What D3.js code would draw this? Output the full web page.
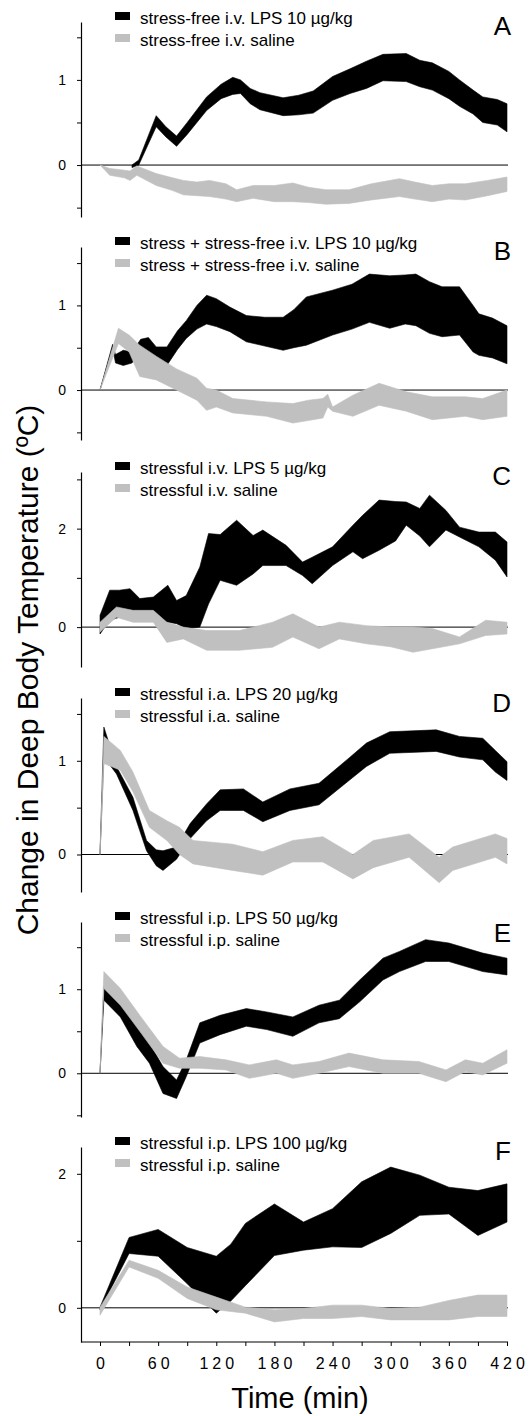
<!DOCTYPE html>
<html>
<head>
<meta charset="utf-8">
<script src="https://cdn.jsdelivr.net/npm/d3@7"></script>
<style>
  body { margin: 0; background: #fff; }
  svg text { font-family: "Liberation Sans", Arial, sans-serif; fill: #000; }
</style>
</head>
<body>
<script>
// each row: [time (min), lower edge, upper edge] in deg C
var lpsA = [[33,-0.03,0.0],[40,0.0,0.06],[58,0.45,0.58],[68,0.33,0.45],[79,0.22,0.34],[90,0.36,0.5],[110,0.64,0.8],[125,0.78,0.95],[137,0.83,1.03],[145,0.84,1.0],[155,0.72,0.9],[165,0.65,0.85],[189,0.58,0.79],[205,0.59,0.82],[220,0.61,0.87],[240,0.76,1.04],[258,0.84,1.13],[275,0.9,1.22],[292,0.99,1.3],[316,0.98,1.31],[330,0.92,1.23],[343,0.88,1.2],[360,0.78,1.1],[371,0.69,1.0],[385,0.6,0.88],[395,0.5,0.8],[410,0.47,0.77],[420,0.39,0.72]];
var salA = [[0,0,0],[10,-0.12,-0.04],[25,-0.15,-0.06],[31,-0.18,-0.07],[38,-0.12,-0.01],[58,-0.24,-0.1],[75,-0.3,-0.15],[86,-0.35,-0.18],[100,-0.36,-0.2],[113,-0.37,-0.18],[130,-0.4,-0.22],[141,-0.43,-0.29],[158,-0.39,-0.24],[180,-0.43,-0.24],[199,-0.43,-0.21],[215,-0.44,-0.26],[233,-0.46,-0.29],[257,-0.45,-0.29],[280,-0.41,-0.22],[309,-0.37,-0.16],[325,-0.4,-0.2],[343,-0.43,-0.24],[360,-0.4,-0.22],[377,-0.41,-0.22],[400,-0.36,-0.18],[420,-0.31,-0.14]];

var lpsB = [[0,0,0],[13,0.5,0.54],[16,0.32,0.42],[24,0.29,0.47],[33,0.32,0.45],[42,0.45,0.6],[50,0.45,0.62],[58,0.35,0.51],[69,0.29,0.51],[80,0.48,0.7],[89,0.61,0.82],[100,0.72,1.0],[110,0.78,1.12],[120,0.75,1.08],[134,0.69,0.98],[151,0.57,0.88],[170,0.52,0.86],[189,0.47,0.86],[200,0.5,0.95],[213,0.53,1.1],[240,0.65,1.18],[260,0.72,1.25],[278,0.8,1.37],[299,0.73,1.35],[315,0.78,1.36],[326,0.76,1.37],[340,0.67,1.28],[353,0.63,1.22],[371,0.65,1.22],[385,0.45,1.0],[391,0.41,0.9],[405,0.38,0.85],[420,0.31,0.76]];
var salB = [[0,0,0],[19,0.55,0.73],[30,0.45,0.65],[41,0.16,0.53],[58,0.12,0.4],[79,0.0,0.25],[100,-0.12,0.14],[110,-0.24,0.02],[120,-0.2,0.0],[137,-0.27,-0.1],[172,-0.31,-0.14],[199,-0.39,-0.16],[215,-0.36,-0.12],[230,-0.33,-0.1],[235,-0.2,-0.05],[240,-0.25,-0.2],[261,-0.31,-0.06],[288,-0.18,0.08],[316,-0.25,-0.02],[343,-0.35,-0.08],[377,-0.31,-0.08],[395,-0.35,-0.1],[420,-0.31,0.0]];

var lpsC = [[0,-0.14,0.24],[10,0.14,0.75],[20,0.2,0.75],[31,0.27,0.78],[41,0.14,0.58],[55,0.17,0.61],[70,0.1,0.85],[79,0.07,0.54],[89,-0.03,0.64],[103,0.0,1.22],[112,0.47,1.9],[124,0.95,1.88],[141,0.85,2.17],[158,1.08,1.86],[168,1.25,1.97],[192,1.25,1.66],[209,1.05,1.32],[219,0.88,1.42],[240,1.25,1.63],[261,1.53,2.07],[271,1.39,2.27],[288,1.56,2.58],[305,1.75,2.55],[316,2.07,2.54],[330,1.85,2.41],[340,1.63,2.68],[357,1.97,2.37],[371,1.83,2.03],[391,1.63,1.93],[408,1.36,1.93],[420,1.02,1.73]];
var salC = [[0,-0.1,0.1],[17,0.2,0.41],[34,0.1,0.34],[55,0.1,0.34],[69,-0.31,0.1],[86,-0.24,0.0],[110,-0.47,-0.07],[144,-0.47,-0.07],[178,-0.41,0.1],[199,-0.2,0.27],[226,-0.44,0.0],[247,-0.24,0.1],[275,-0.34,0.03],[300,-0.4,0.0],[323,-0.51,0.0],[343,-0.44,-0.03],[371,-0.34,-0.2],[398,-0.17,0.14],[420,-0.14,0.1]];

var lpsD = [[0,0,0],[4,1.04,1.36],[17,0.86,0.94],[34,0.47,0.61],[48,0.04,0.15],[58,-0.12,0.05],[65,-0.17,0.04],[79,-0.05,0.08],[93,0.17,0.33],[110,0.36,0.54],[124,0.47,0.69],[148,0.47,0.7],[168,0.35,0.56],[196,0.47,0.7],[226,0.53,0.76],[257,0.79,1.03],[275,0.94,1.19],[299,1.08,1.31],[347,1.1,1.33],[371,1.04,1.26],[395,1.01,1.24],[408,0.88,1.11],[420,0.79,0.99]];
var salD = [[0,0,0],[4,0.97,1.26],[21,0.9,1.11],[34,0.67,0.88],[51,0.29,0.47],[69,0.15,0.36],[82,0.0,0.29],[96,-0.1,0.15],[137,-0.17,0.11],[168,-0.22,0.03],[199,-0.08,0.15],[230,-0.08,0.19],[261,-0.26,0.0],[282,-0.14,0.15],[319,-0.03,0.22],[350,-0.3,-0.03],[364,-0.17,0.08],[408,-0.03,0.22],[420,-0.1,0.17]];

var lpsE = [[0,0,0],[4,0.87,1.03],[21,0.67,0.83],[38,0.32,0.56],[51,0.12,0.36],[65,-0.24,0.08],[79,-0.3,-0.08],[89,-0.04,0.16],[103,0.36,0.6],[124,0.46,0.69],[151,0.56,0.77],[172,0.52,0.73],[199,0.44,0.67],[226,0.6,0.81],[247,0.65,0.87],[268,0.85,1.11],[292,1.11,1.37],[309,1.21,1.45],[336,1.33,1.59],[360,1.33,1.55],[395,1.21,1.43],[420,1.17,1.37]];
var salE = [[0,0,0],[4,1.01,1.21],[21,0.81,1.01],[41,0.5,0.69],[65,0.12,0.32],[82,0.06,0.18],[103,0.06,0.2],[130,0.04,0.16],[154,-0.06,0.1],[182,0.0,0.16],[199,-0.06,0.1],[226,0.0,0.14],[257,0.08,0.24],[292,0.0,0.16],[329,0.0,0.14],[357,-0.1,0.04],[377,0.02,0.16],[395,-0.02,0.12],[420,0.12,0.28]];

var lpsF = [[0,-0.03,0.01],[30,0.81,1.05],[60,0.77,1.17],[90,0.36,0.9],[120,-0.08,0.77],[135,0.1,0.95],[150,0.33,1.26],[180,0.78,1.55],[210,0.86,1.28],[240,0.91,1.48],[270,0.9,1.88],[300,1.11,2.1],[330,1.38,1.98],[360,1.4,1.8],[390,1.08,1.75],[420,1.28,1.85]];
var salF = [[0,-0.11,0.01],[30,0.61,0.71],[60,0.44,0.56],[90,0.14,0.31],[120,-0.03,0.16],[150,-0.08,0.01],[180,-0.21,-0.03],[210,-0.16,-0.01],[240,-0.16,0.04],[270,-0.13,0.04],[300,-0.18,-0.01],[330,-0.18,0.01],[360,-0.18,0.11],[390,-0.13,0.19],[420,-0.13,0.19]];

var panelLetters = ["A", "B", "C", "D", "E", "F"];
var lpsLabels = ["stress-free i.v. LPS 10 \u00b5g/kg", "stress + stress-free i.v. LPS 10 \u00b5g/kg",
  "stressful i.v. LPS 5 \u00b5g/kg", "stressful i.a. LPS 20 \u00b5g/kg",
  "stressful i.p. LPS 50 \u00b5g/kg", "stressful i.p. LPS 100 \u00b5g/kg"];
var salineLabels = ["stress-free i.v. saline", "stress + stress-free i.v. saline",
  "stressful i.v. saline", "stressful i.a. saline", "stressful i.p. saline", "stressful i.p. saline"];
var yTicks = [[-0.5, 0, 0.5, 1, 1.5], [-0.5, 0, 0.5, 1, 1.5], [0, 1, 2, 3],
  [0, 0.5, 1, 1.5], [-0.5, 0, 0.5, 1, 1.5], [0, 1, 2]];
var yTickLabels = [[0, 1], [0, 1], [0, 2], [0, 1], [0, 1], [0, 2]];
var yDomains = [[-0.61, 1.68], [-0.59, 1.69], [-0.81, 3.15], [-0.4, 1.67], [-0.52, 1.8], [-0.51, 2.4]];
var xTicks = [0, 30, 60, 90, 120, 150, 180, 210, 240, 270, 300, 330, 360, 390, 420];

var lpsSeries = [lpsA, lpsB, lpsC, lpsD, lpsE, lpsF];
var salSeries = [salA, salB, salC, salD, salE, salF];

// pixel layout of each panel's y axis
var boxes = [
  {top: 22, bottom: 217, letterY: 35},
  {top: 247, bottom: 440, letterY: 260},
  {top: 472, bottom: 667, letterY: 485},
  {top: 698, bottom: 892, letterY: 712},
  {top: 922, bottom: 1117, letterY: 942},
  {top: 1147, bottom: 1342, letterY: 1160}
];

var width = 531, height = 1416;
var black = "#000", grey = "#c0c0c0";

var svg = d3.select("body").append("svg")
  .attr("width", width)
  .attr("height", height);

var x = d3.scaleLinear().domain([0, 420]).range([100, 507]);
var axisX = 81;

boxes.forEach(function(b, i) {
  var y = d3.scaleLinear().domain(yDomains[i]).range([b.bottom, b.top]);
  var g = svg.append("g");

  var area = d3.area()
    .x(function(d) { return x(d[0]); })
    .y0(function(d) { return y(d[1]); })
    .y1(function(d) { return y(d[2]); });

  // zero line under the bands
  g.append("line")
    .attr("x1", axisX).attr("x2", 508)
    .attr("y1", y(0)).attr("y2", y(0))
    .attr("stroke", black).attr("stroke-width", 1);

  g.append("path")
    .datum(lpsSeries[i])
    .attr("d", area)
    .attr("fill", black)
    .attr("stroke", black)
    .attr("stroke-width", 0.6);

  g.append("path")
    .datum(salSeries[i])
    .attr("d", area)
    .attr("fill", grey)
    .attr("stroke", grey)
    .attr("stroke-width", 0.6);

  var yAxis = d3.axisLeft(y)
    .tickValues(yTicks[i])
    .tickSize(4)
    .tickSizeOuter(0)
    .tickPadding(11)
    .tickFormat(function(d) { return yTickLabels[i].indexOf(d) >= 0 ? d : ""; });

  var ax = g.append("g")
    .attr("transform", "translate(" + axisX + ",0)")
    .call(yAxis);
  ax.selectAll("text").style("font-size", "14px");
  ax.select(".domain").attr("stroke-width", 1.2);

  // legend
  var ly = b.top + 2;
  g.append("rect").attr("x", 115).attr("y", ly - 12).attr("width", 15).attr("height", 8).attr("fill", black);
  g.append("text").attr("x", 140).attr("y", ly).style("font-size", "17px").text(lpsLabels[i]);
  g.append("rect").attr("x", 115).attr("y", ly + 10).attr("width", 15).attr("height", 8).attr("fill", grey);
  g.append("text").attr("x", 140).attr("y", ly + 22).style("font-size", "17px").text(salineLabels[i]);

  g.append("text")
    .attr("x", 511).attr("y", b.letterY)
    .attr("text-anchor", "end")
    .style("font-size", "26px")
    .text(panelLetters[i]);

  if (i === boxes.length - 1) {
    var xAxis = d3.axisBottom(x)
      .tickValues(xTicks)
      .tickSize(4)
      .tickSizeOuter(0)
      .tickPadding(12)
      .tickFormat(function(d) { return d % 60 === 0 ? d : ""; });
    var xa = g.append("g")
      .attr("transform", "translate(0," + b.bottom + ")")
      .call(xAxis);
    xa.select(".domain").remove();
    xa.selectAll("text")
      .style("font-size", "16px")
      .style("letter-spacing", "4px")
      .attr("dx", 2);
    g.append("line")
      .attr("x1", axisX).attr("x2", 508)
      .attr("y1", b.bottom).attr("y2", b.bottom)
      .attr("stroke", black).attr("stroke-width", 1.2);

    g.append("text")
      .attr("x", 300).attr("y", 1408)
      .attr("text-anchor", "middle")
      .style("font-size", "29px")
      .text("Time (min)");
  }
});

svg.append("text")
  .attr("transform", "translate(38,670) rotate(-90)")
  .attr("text-anchor", "middle")
  .style("font-size", "30px")
  .text("Change in Deep Body Temperature (\u00baC)");
</script>
</body>
</html>
